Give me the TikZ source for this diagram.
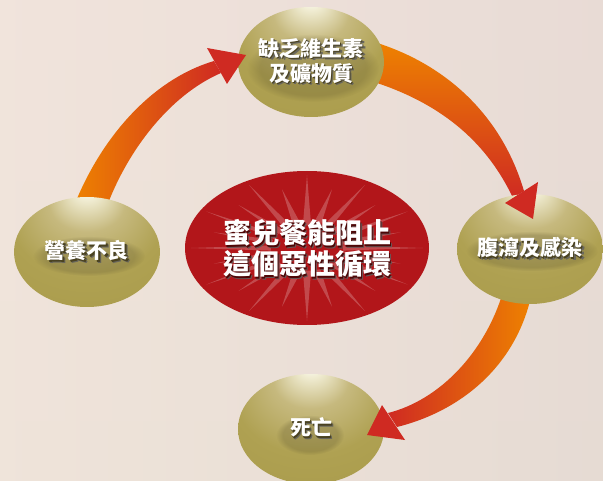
\documentclass[tikz,border=0pt]{standalone}
\usepackage{fontspec}
\newfontfamily\cjk{Noto Sans CJK TC}
\usetikzlibrary{shapes.geometric,fadings}
\definecolor{bgA}{HTML}{EFE1D9}
\definecolor{bgB}{HTML}{EDDAD3}
\definecolor{bgC}{HTML}{DCCDCB}
\definecolor{bgT}{HTML}{F3E7DF}
\definecolor{bgM}{HTML}{E9D8D2}
\definecolor{bgD}{HTML}{EFE7DB}
\definecolor{gHL}{HTML}{F0ECD2}
\definecolor{gMid}{HTML}{C6B97E}
\definecolor{gOut}{HTML}{AFA152}
\definecolor{gEdge}{HTML}{A69847}
\definecolor{gShadow}{HTML}{4A4220}
\definecolor{redfill}{HTML}{B2161A}
\definecolor{redShadow}{HTML}{4E0606}
\definecolor{arrorange}{HTML}{EE8200}
\definecolor{arrred}{HTML}{CF2A22}
\pgfdeclareradialshading{goldball}{\pgfpoint{0bp}{30bp}}{color(0bp)=(white); color(4bp)=(gHL); color(13bp)=(gMid); color(26bp)=(gOut); color(50bp)=(gEdge)}
\newcommand\shd[2]{\makebox[0pt][l]{\hspace*{2.6pt}\raisebox{-2.6pt}{\textcolor{#1!45!white!60!black}{#2}}}\makebox[0pt][l]{\hspace*{1.4pt}\raisebox{-1.4pt}{\textcolor{#1}{#2}}}#2}
\begin{document}
\begin{tikzpicture}[x=1pt,y=-1pt,
  ball/.style={ellipse, minimum width=146pt, minimum height=110pt, inner sep=0pt,
    shade, shading=goldball, text=white, align=center,
    font=\cjk\bfseries\fontsize{21pt}{25pt}\selectfont},
  coretext/.style={inner sep=0pt, text=white, align=center,
    font=\cjk\bfseries\fontsize{28pt}{31pt}\selectfont},
  haze/.style={path fading=circle with fuzzy edge 20 percent, opacity=0.22},
  shaft/.style={draw=none},
  headtip/.style={fill=arrred, draw=none}]
\useasboundingbox (0,0) rectangle (603,481);
% background
\shade[left color=bgA, middle color=bgB, right color=bgC] (0,0) rectangle (603,481);
\shade[top color=bgT, middle color=bgM, bottom color=bgD, opacity=0.55] (0,0) rectangle (603,481);

% arrow shafts (behind the balls)
\shade[shaft, left color=arrorange, right color=arrred]
  (74,206) .. controls (100,140) and (150,80) .. (214,61)
  -- (221,73) .. controls (170,95) and (128,150) .. (107,206) -- cycle;
\shade[shaft, top color=arrorange, bottom color=arrred]
  (374,42) .. controls (440,62) and (500,110) .. (524,191)
  -- (513,198) .. controls (488,145) and (445,105) .. (374,82) -- cycle;
\shade[shaft, left color=arrred, right color=arrorange]
  (532,292) .. controls (518,362) and (465,410) .. (397,427)
  -- (388,413) .. controls (440,400) and (485,352) .. (503,292) -- cycle;

% balls
\node[ball] (top) at (311,62) {};
\node[ball] (left) at (87,252) {};
\node[ball] (right) at (530,249) {};
\node[ball] (bottom) at (311,429) {};
\fill[gShadow, haze] (313,68) ellipse [x radius=66, y radius=34];
\fill[gShadow, haze] (89,256) ellipse [x radius=56, y radius=20];
\fill[gShadow, haze] (532,251) ellipse [x radius=66, y radius=20];
\fill[gShadow, haze] (310,435) ellipse [x radius=34, y radius=20];
\node[ball, shading=, fill=none, draw=none, shade=false] (topt) at (top.center) {\shd{gShadow}{缺乏維生素}\\\shd{gShadow}{及礦物質}};
\node[ball, fill=none, draw=none, shade=false] (leftt) at (left.center) {\shd{gShadow}{營養不良}};
\node[ball, fill=none, draw=none, shade=false] (rightt) at (right.center) {\shd{gShadow}{腹瀉及感染}};
\node[ball, fill=none, draw=none, shade=false] (bottomt) at (bottom.center) {\shd{gShadow}{死亡}};

% central red burst
\fill[redfill] (307,248) ellipse [x radius=122, y radius=77];
\begin{scope}[shift={(307,248)}]
  \clip (0,0) ellipse [x radius=121, y radius=76];
  \foreach \i in {0,...,23}{
    \pgfmathsetmacro\a{\i*15}
    \pgfmathsetmacro\R{ifthenelse(mod(\i,2)==0,0.96,0.80)}
    \fill[white, opacity=0.22]
      ({cos(\a-6.5)*0.3*121},{sin(\a-6.5)*0.3*76})
      -- ({cos(\a)*\R*121},{sin(\a)*\R*76})
      -- ({cos(\a+6.5)*0.3*121},{sin(\a+6.5)*0.3*76}) -- cycle;
  }
\end{scope}
\node[coretext] (center) at (307,250)
  {\shd{redShadow}{蜜兒餐能阻止}\\\shd{redShadow}{這個惡性循環}};

% arrow heads (over the balls)
\fill[headtip] (207,48) -- (246,55) -- (227,84) -- cycle;
\fill[headtip] (505,203) -- (533,219) -- (538,182) -- cycle;
\fill[headtip] (382,405) -- (367,435) -- (405,440) -- cycle;
\end{tikzpicture}
\end{document}
